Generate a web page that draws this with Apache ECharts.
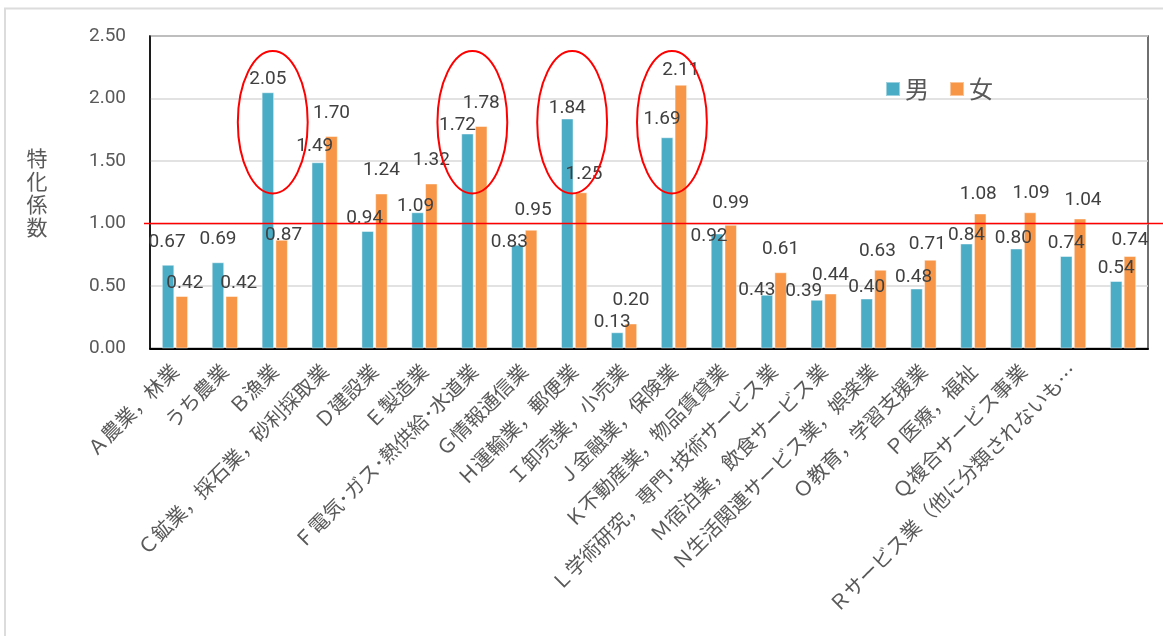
<!DOCTYPE html>
<html>
<head>
<meta charset="utf-8">
<script src="https://cdn.jsdelivr.net/npm/echarts@6/dist/echarts.min.js"></script>
<style>
  html, body { margin: 0; padding: 0; background: #ffffff; }
  #chart { width: 1163px; height: 636px; }
</style>
</head>
<body>
<div id="chart"></div>
<script>
// 産業別・男女別の特化係数
const categories = [
  'Ａ農業，林業', 'うち農業', 'Ｂ漁業', 'Ｃ鉱業，採石業，砂利採取業', 'Ｄ建設業',
  'Ｅ製造業', 'Ｆ電気･ガス･熱供給･水道業', 'Ｇ情報通信業', 'Ｈ運輸業，郵便業',
  'Ｉ卸売業，小売業', 'Ｊ金融業，保険業', 'Ｋ不動産業，物品賃貸業',
  'Ｌ学術研究，専門･技術サービス業', 'Ｍ宿泊業，飲食サービス業',
  'Ｎ生活関連サービス業，娯楽業', 'Ｏ教育，学習支援業', 'Ｐ医療，福祉',
  'Ｑ複合サービス事業', 'Ｒサービス業（他に分類されないもの）', ''
];
const seriesNames = ['男', '女'];
const maleValues = [0.67, 0.69, 2.05, 1.49, 0.94, 1.09, 1.72, 0.83, 1.84, 0.13,
                    1.69, 0.92, 0.43, 0.39, 0.40, 0.48, 0.84, 0.80, 0.74, 0.54];
const femaleValues = [0.42, 0.42, 0.87, 1.70, 1.24, 1.32, 1.78, 0.95, 1.25, 0.20,
                      2.11, 0.99, 0.61, 0.44, 0.63, 0.71, 1.08, 1.09, 1.04, 0.74];
const yTickMin = 0;
const yTickMax = 2.5;
const yTickStep = 0.5;
// reference level of the coefficient (全国平均 = 1)
const referenceLevel = 1.0;
// groups ringed in red, and the value span each ring covers
const ringedCategories = ['Ｂ漁業', 'Ｆ電気･ガス･熱供給･水道業', 'Ｈ運輸業，郵便業', 'Ｊ金融業，保険業'];
const ringSpan = [1.24, 2.38];

// hand nudges of the value labels (px): lift above the bar top, sideways shift
const maleLabelLift   = [23, 23, 13, 16, 13, 6, 8, 3, 10, 10, 18, -3, 5, 9, 11, 11, 8, 10, 13, 13];
const maleLabelShift  = [-1, 0, 0, -3, -3, -2, -10, -8, 0, -5, -5, -8, -10, -13, 0, -3, 0, -3, 0, 0];
const femaleLabelLift = [13, 13, 5, 23, 23, 23, 23, 20, 18, 23, 15, 22, 23, 18, 19, 16, 19, 19, 18, 16];
const femaleLabelShift = [3, 7, 2, 0, 0, 0, 0, 2, 3, 0, 0, 0, 0, 0, -3, -3, -2, 1, 3, 0];

const LABEL_LH = 19;
function withLabels(values, lift, shift) {
  return values.map((v, i) => ({
    value: v,
    label: { offset: [shift[i], LABEL_LH / 2 - lift[i]] }
  }));
}

const chart = echarts.init(document.getElementById('chart'), null, { renderer: 'canvas' });

const barLabel = {
  show: true,
  position: 'top',
  distance: 0,
  fontFamily: 'Roboto',
  fontSize: 19,
  lineHeight: LABEL_LH,
  color: '#404040',
  formatter: p => p.value.toFixed(2)
};

chart.setOption({
  animation: false,
  backgroundColor: '#ffffff',
  textStyle: { fontFamily: '"Noto Sans CJK JP", Roboto, sans-serif' },
  grid: {
    left: 150, right: 15, top: 36, bottom: 287.5,
    show: true, borderColor: '#404040', borderWidth: 1.5, backgroundColor: 'transparent'
  },
  legend: {
    data: seriesNames,
    left: 885, top: 77,
    padding: 0,
    itemWidth: 14, itemHeight: 14, itemGap: 20,
    icon: 'rect',
    textStyle: { fontSize: 24, color: '#595959', fontFamily: '"Noto Sans CJK JP"' }
  },
  xAxis: {
    type: 'category',
    data: categories,
    axisLine: { lineStyle: { color: '#000000', width: 2 } },
    axisTick: { show: false },
    axisLabel: {
      interval: 0,
      rotate: 45,
      margin: 19,
      fontSize: 20,
      color: '#595959',
      fontFamily: '"Noto Sans CJK JP"',
      formatter: s => (s.length > 17 ? s.slice(0, 16) + '…' : s)
    }
  },
  yAxis: {
    type: 'value',
    min: yTickMin, max: yTickMax, interval: yTickStep,
    name: '特\n化\n係\n数',
    nameLocation: 'middle',
    nameRotate: 0,
    nameGap: 113,
    nameTextStyle: {
      fontSize: 21, lineHeight: 23, color: '#595959',
      align: 'center', verticalAlign: 'middle', fontFamily: '"Noto Sans CJK JP"'
    },
    axisLine: { show: true, lineStyle: { color: '#000000', width: 1.5 } },
    axisTick: { show: false },
    axisLabel: {
      margin: 24, fontSize: 19, color: '#595959', fontFamily: 'Roboto',
      formatter: v => v.toFixed(2)
    },
    splitLine: { lineStyle: { color: '#d9d9d9', width: 1.5 } }
  },
  series: [
    {
      name: seriesNames[0],
      type: 'bar',
      barWidth: 12.5,
      barGap: '10%',
      itemStyle: { color: '#4BACC6', borderColor: 'rgba(255,255,255,0.45)', borderWidth: 1 },
      label: barLabel,
      data: withLabels(maleValues, maleLabelLift, maleLabelShift)
    },
    {
      name: seriesNames[1],
      type: 'bar',
      barWidth: 12.5,
      barGap: '10%',
      itemStyle: { color: '#F79646', borderColor: 'rgba(255,255,255,0.45)', borderWidth: 1 },
      label: barLabel,
      data: withLabels(femaleValues, femaleLabelLift, femaleLabelShift)
    }
  ]
});

// overlays: outer frame, reference line and red rings, placed through the axes
function drawOverlays() {
  const yRef = chart.convertToPixel({ yAxisIndex: 0 }, referenceLevel);
  const yTop = chart.convertToPixel({ yAxisIndex: 0 }, ringSpan[1]);
  const yBot = chart.convertToPixel({ yAxisIndex: 0 }, ringSpan[0]);
  const x0 = chart.convertToPixel({ xAxisIndex: 0 }, categories[0]);
  const x1 = chart.convertToPixel({ xAxisIndex: 0 }, categories[1]);
  const band = x1 - x0;
  const rings = ringedCategories.map(c => ({
    type: 'ellipse',
    z: 100,
    shape: {
      cx: chart.convertToPixel({ xAxisIndex: 0 }, c) - 2,
      cy: (yTop + yBot) / 2,
      rx: band * 0.7,
      ry: (yBot - yTop) / 2
    },
    style: { fill: 'none', stroke: '#ff0000', lineWidth: 2 }
  }));
  chart.setOption({
    graphic: [
      {
        type: 'rect', z: -10, silent: true,
        shape: { x: 5, y: 8.5, width: 1300, height: 800 },
        style: { fill: 'none', stroke: '#dcdcdc', lineWidth: 2 }
      },
      {
        type: 'line', z: 100, silent: true,
        shape: { x1: 144, y1: yRef, x2: 1163, y2: yRef },
        style: { stroke: '#ff0000', lineWidth: 1.5 }
      }
    ].concat(rings)
  });
}
drawOverlays();
</script>
</body>
</html>
